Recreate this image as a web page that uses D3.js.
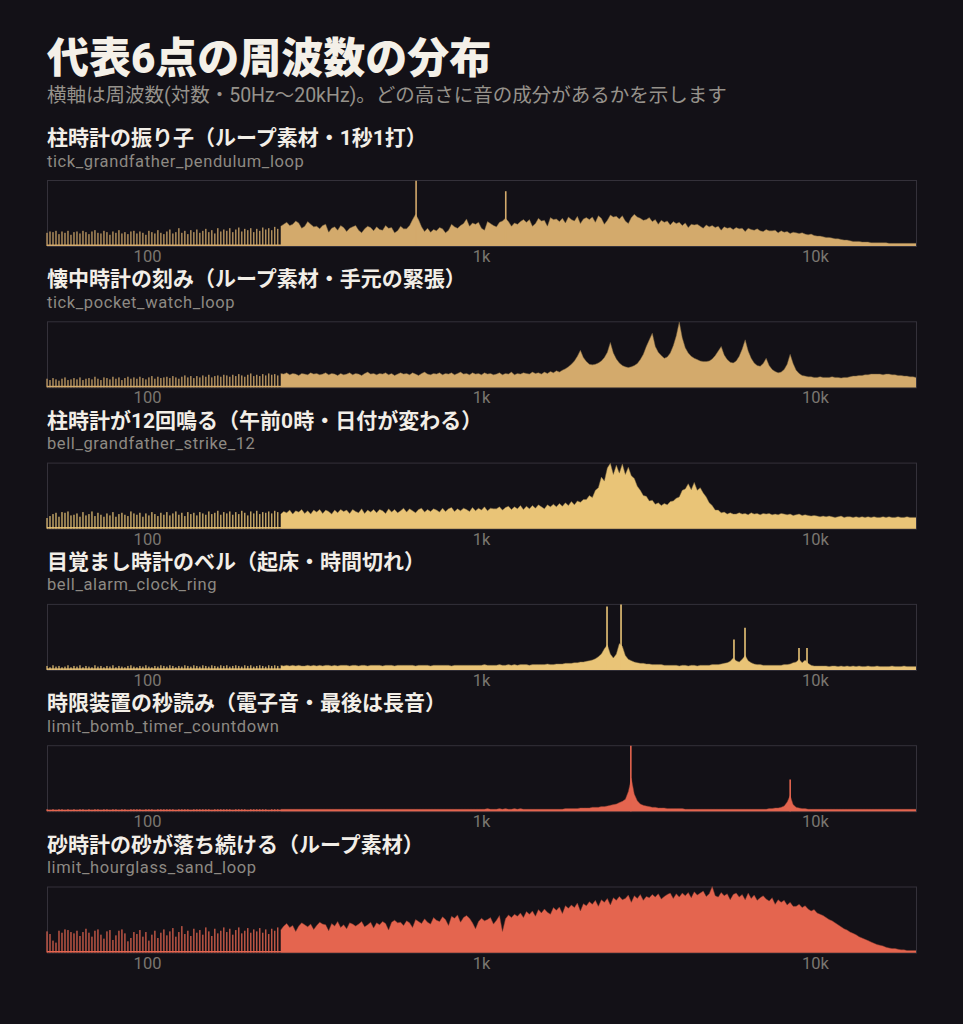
<!DOCTYPE html>
<html><head><meta charset="utf-8">
<script src="https://cdn.jsdelivr.net/npm/d3@7"></script>
<style>
html,body{margin:0;padding:0;background:#131117;}
svg{display:block;}
</style></head><body>
<svg id="chart" width="963" height="1024"></svg>
<script>
// ---------------- DATA ----------------
const freqMin = 50, freqMax = 20000, gridCount = 291;   // log-spaced sampling grid of the x axis
const tickValues = [100, 1000, 10000];
const tickLabels = ["100", "1k", "10k"];
const chartTitle = "代表6点の周波数の分布";
const chartSubtitle = "横軸は周波数(対数・50Hz〜20kHz)。どの高さに音の成分があるかを示します";
const panelTitles = [
  "柱時計の振り子（ループ素材・1秒1打）",
  "懐中時計の刻み（ループ素材・手元の緊張）",
  "柱時計が12回鳴る（午前0時・日付が変わる）",
  "目覚まし時計のベル（起床・時間切れ）",
  "時限装置の秒読み（電子音・最後は長音）",
  "砂時計の砂が落ち続ける（ループ素材）"
];
const panelIds = [
  "tick_grandfather_pendulum_loop",
  "tick_pocket_watch_loop",
  "bell_grandfather_strike_12",
  "bell_alarm_clock_ring",
  "limit_bomb_timer_countdown",
  "limit_hourglass_sand_loop"
];
// level (0-100 % of panel height) at each grid point
const spec1 = [
  20,22,21,23,18,22,20,23,17,21, 22,19,23,21,18,22,24,20,19,23,
  21,17,22,20,24,19,21,18,22,23, 19,22,20,17,23,21,19,24,20,18,
  22,25,19,21,27,20,23,18,24,21, 25,20,23,26,21,24,19,27,22,25,
  23,27,21,25,28,22,26,24,27,21, 26,23,28,25,27,24,29,26,30,33,
  36,31,33,38,35,27,30,37,33,29, 30,26,31,33,21,27,29,24,31,28,
  22,27,29,31,24,20,26,30,28,23, 29,25,24,31,27,28,20,23,30,26,
  26,31,40,48,40,29,22,27,21,25, 23,28,26,20,24,33,29,27,31,34,
  41,30,35,33,36,27,24,37,34,31, 29,36,38,42,37,30,35,33,37,40,
  36,40,30,34,42,38,39,30,43,40, 41,37,42,35,44,40,38,45,34,41,
  43,40,44,36,46,42,33,39,47,44, 45,41,46,38,34,43,48,44,42,39,
  40,43,37,40,33,39,36,38,32,37, 34,36,31,35,28,33,32,33,30,27,
  32,29,31,28,30,24,29,27,28,25, 28,26,27,22,27,25,24,26,23,22,
  25,23,23,24,20,23,21,22,19,21, 20,19,20,18,17,18,16,15,15,14,
  13,13,12,11,11,10,9,9,8,7, 7,7,6,6,6,5,5,5,5,5,
  5,4,4,4,4,4,4,4,4,4, 4
];
const spec2 = [
  13,11,14,12,10,13,15,11,12,14, 12,15,11,13,14,12,16,13,11,15,
  14,12,16,13,15,11,14,16,13,15, 13,16,14,12,15,17,13,16,14,15,
  16,14,17,15,13,16,18,15,17,14, 17,15,18,16,19,15,17,18,16,19,
  18,16,19,17,20,18,16,19,21,17, 19,17,20,18,21,19,20,18,21,20,
  22,19,21,20,18,21,20,19,22,20, 21,19,20,22,19,21,20,18,21,19,
  20,22,19,21,20,18,21,23,20,21, 19,21,20,22,19,21,18,20,22,20,
  21,19,22,20,18,21,23,20,19,21, 20,22,19,21,20,22,19,21,23,20,
  21,19,22,20,21,19,22,20,21,19, 20,22,19,21,20,23,19,21,20,22,
  21,20,23,21,22,20,23,21,24,22, 25,23,26,28,31,35,40,47,56,45,
  39,35,34,35,37,40,45,53,68,52, 43,37,33,31,30,31,33,36,42,50,
  62,72,82,62,53,48,44,46,52,63, 78,99,75,60,52,47,44,42,40,39,
  39,40,43,48,55,62,49,42,38,37, 40,47,58,72,55,44,37,33,32,36,
  44,33,27,24,22,23,27,35,50,36, 26,21,18,17,16,16,15,15,16,15,
  15,15,16,15,15,14,15,15,16,17, 17,18,18,19,19,20,20,20,20,19,
  20,20,19,19,18,18,17,17,16,16, 15
];
const spec3 = [
  16,19,22,24,18,25,24,26,20,21, 23,18,25,20,22,26,19,24,21,18,
  23,20,25,18,22,24,21,19,26,23, 21,24,18,23,20,25,22,19,24,21,
  25,20,23,26,21,24,19,25,22,24, 20,25,23,21,26,22,24,27,21,25,
  23,26,21,25,22,27,24,20,26,23, 27,22,25,24,26,23,27,25,22,26,
  24,28,22,27,25,29,23,27,22,28, 25,29,23,28,26,22,28,24,29,26,
  28,23,29,26,24,30,23,28,25,29, 24,29,27,23,30,25,29,24,27,31,
  25,30,27,24,29,31,25,29,26,30, 28,25,31,26,30,32,26,30,27,31,
  29,26,32,27,31,28,33,27,31,30, 30,33,28,32,34,29,33,30,35,29,
  34,30,35,31,36,33,30,36,33,37, 33,38,34,39,35,41,36,42,40,44,
  44,50,47,58,62,78,72,92,99,82, 96,84,98,82,93,80,76,64,58,50,
  49,42,43,37,39,35,38,36,41,42, 46,48,58,60,68,59,70,58,62,54,
  48,39,35,28,28,24,25,22,24,22, 22,24,22,23,21,24,22,23,21,23,
  22,23,21,22,21,23,22,21,22,20, 21,22,20,21,20,19,20,19,18,19,
  18,19,18,17,18,19,17,18,18,17, 18,17,18,17,18,17,18,17,17,18,
  17,18,17,17,18,17,17,18,17,17, 17
];
const spec4 = [
  6,4,7,5,6,4,5,7,4,6, 5,7,4,6,5,4,7,5,6,4,
  6,5,7,4,6,5,4,6,7,5, 4,6,5,7,5,4,6,5,7,6,
  5,7,6,4,6,5,7,6,5,7, 6,5,7,6,5,7,6,5,7,6,
  7,5,6,7,6,5,7,6,7,5, 6,7,6,5,7,6,7,6,7,6,
  7,6,7,6,7,6,6,7,6,7, 6,7,6,7,7,6,7,6,7,7,
  7,6,7,7,6,7,7,6,7,7, 7,7,6,7,7,7,6,7,7,7,
  7,7,7,6,7,7,7,7,6,7, 7,7,7,7,7,6,7,7,7,7,
  7,7,7,7,7,7,8,7,7,7, 7,8,7,7,8,7,8,7,8,8,
  8,7,8,8,8,8,8,9,8,8, 9,9,9,10,10,10,11,11,12,12,
  13,14,15,17,20,24,32,38,24,18, 24,40,36,22,16,14,12,11,10,10,
  9,9,8,8,8,8,7,7,7,7, 7,6,7,7,6,7,7,6,7,7,
  7,7,8,8,8,9,10,11,13,18, 14,12,16,22,14,11,9,8,8,7,
  7,7,7,7,7,7,8,8,9,11, 12,16,11,15,10,7,6,6,6,6,
  6,5,6,6,5,6,5,6,5,6, 5,6,5,5,6,5,5,6,5,5,
  5,5,6,5,5,5,6,5,5,5, 5
];
const spec5 = [
  3,2,3,2,3,3,2,3,2,3, 2,3,3,2,3,2,3,3,2,3,
  3,2,3,3,2,3,3,2,3,3, 3,3,2,3,3,3,2,3,3,3,
  3,3,3,2,3,3,3,3,2,3, 3,3,3,3,3,2,3,3,3,3,
  3,3,2,3,3,3,3,2,3,3, 3,3,3,3,2,3,3,3,3,3,
  3,3,3,3,3,3,3,3,3,3, 3,3,3,3,3,3,3,3,3,3,
  3,3,3,3,3,3,3,3,3,3, 3,3,3,3,3,3,3,3,3,3,
  3,3,3,3,3,3,3,3,3,3, 3,3,3,3,3,3,3,3,3,3,
  3,3,3,3,3,3,3,4,3,3, 3,4,3,4,3,3,4,3,4,3,
  3,3,3,3,3,3,3,3,3,3, 3,3,3,4,4,4,4,4,5,5,
  5,5,6,6,6,7,7,8,9,10, 11,13,15,18,30,50,26,16,11,9,
  8,7,6,6,5,5,5,4,4,4, 4,4,4,3,3,3,3,3,3,3,
  3,3,3,3,3,3,3,3,3,3, 3,3,3,3,3,3,3,3,3,3,
  3,4,4,5,5,6,8,14,24,10, 6,5,4,4,3,3,3,3,3,3,
  3,3,3,3,3,3,3,3,3,3, 3,3,3,3,3,3,3,3,3,3,
  3,3,3,3,3,3,3,3,3,3, 3
];
const spec6 = [
  32,28,18,15,33,30,35,34,31,29, 33,25,31,36,30,24,33,35,27,21,
  32,34,19,26,33,35,29,17,22,31, 28,34,24,31,18,27,33,22,30,35,
  26,32,37,24,31,40,28,33,25,36, 30,34,27,38,32,25,36,29,33,38,
  31,36,27,34,38,29,33,37,30,35, 32,37,30,35,28,36,33,38,34,40,
  44,38,41,32,40,45,42,39,43,35, 41,46,43,42,33,44,40,47,38,42,
  36,45,43,40,43,47,39,42,46,37, 45,42,47,44,34,46,49,45,46,41,
  48,45,38,50,47,44,51,46,43,53, 49,47,54,50,41,55,52,57,46,53,
  56,52,45,36,47,52,48,50,53,43, 49,56,32,51,57,53,58,55,60,53,
  62,58,63,55,65,60,66,61,58,68, 64,69,59,71,67,72,68,75,63,74,
  71,77,73,79,70,80,76,82,72,83, 79,85,80,82,87,76,86,82,88,79,
  85,83,88,84,89,81,85,88,90,82, 89,84,90,86,91,83,92,87,90,93,
  85,89,100,86,84,91,86,89,80,88, 90,84,88,80,90,82,87,79,83,86,
  81,78,83,73,80,76,79,72,76,70, 70,73,68,71,66,63,65,60,58,56,
  53,50,48,45,42,39,36,34,31,29, 27,24,22,20,18,16,14,12,11,10,
  8,7,6,6,5,4,4,3,3,3, 3
];
// narrow tonal peaks: [frequency in Hz, level %]
const needles1 = [[637, 99], [1182, 83]];
const needles2 = [];
const needles3 = [];
const needles4 = [[2376, 96], [2617, 99], [5701, 46], [6152, 64], [8927, 33], [9433, 33]];
const needles5 = [[2800, 99], [8400, 48]];
const needles6 = [];

// ---------------- STYLE / LAYOUT ----------------
const spectra = [spec1, spec2, spec3, spec4, spec5, spec6];
const needles = [needles1, needles2, needles3, needles4, needles5, needles6];
const colors = ["#d3aa6c", "#d3aa6c", "#e9c477", "#e9c477", "#e4654f", "#e4654f"];
const plotLeft = 47, plotRight = 916, frameTop0 = 180, frameH = 66, panelStep = 141.3;
const barCutoff = 250;
const cjkFont = "Roboto, 'Noto Sans CJK JP', sans-serif";
const latinFont = "Roboto, 'Noto Sans', sans-serif";

const svg = d3.select("#chart");
svg.append("rect").attr("width", 963).attr("height", 1024).attr("fill", "#131117");

svg.append("text").attr("x", 47).attr("y", 73)
  .attr("font-family", cjkFont).attr("font-weight", 900).attr("font-size", 42)
  .attr("fill", "#f4f0e8").text(chartTitle);
svg.append("text").attr("x", 47).attr("y", 101.5)
  .attr("font-family", cjkFont).attr("font-size", 19.5)
  .attr("fill", "#96928b").text(chartSubtitle);

const x = d3.scaleLog().domain([freqMin, freqMax]).range([plotLeft, plotRight]);
const grid = d3.range(gridCount).map(i => freqMin * Math.pow(freqMax / freqMin, i / (gridCount - 1)));

spectra.forEach((spec, p) => {
  const top = frameTop0 + p * panelStep;
  const bottom = top + frameH;
  const y = d3.scaleLinear().domain([0, 100]).range([bottom, top]);
  const color = colors[p];
  const g = svg.append("g");
  const pts = grid.map((f, i) => ({ f, v: spec[i] }));

  g.append("text").attr("x", 47).attr("y", top - 35)
    .attr("font-family", cjkFont).attr("font-weight", 700).attr("font-size", 21)
    .attr("fill", "#f2eee7").text(panelTitles[p]);
  g.append("text").attr("x", 47).attr("y", top - 13.5)
    .attr("font-family", latinFont).attr("font-size", 16.5).attr("letter-spacing", 0.6)
    .attr("fill", "#8d8983").text(panelIds[p]);

  g.append("rect").attr("x", plotLeft + 0.5).attr("y", top + 0.5)
    .attr("width", plotRight - plotLeft).attr("height", frameH)
    .attr("fill", "none").attr("stroke", "#34313a").attr("stroke-width", 1);

  // low-frequency bins drawn as separate bars
  const lows = pts.filter(d => d.f < barCutoff);
  g.selectAll("rect.bar").data(lows).join("rect").attr("class", "bar")
    .attr("x", d => x(d.f) - 0.7).attr("width", 1.4)
    .attr("y", d => y(d.v)).attr("height", d => bottom - y(d.v))
    .attr("fill", color).attr("opacity", 0.85);

  // continuous region
  const highs = pts.filter(d => d.f >= barCutoff * 0.985);
  const area = d3.area().x(d => x(d.f)).y0(bottom).y1(d => y(d.v));
  const line = d3.line().x(d => x(d.f)).y(d => y(d.v));
  g.append("path").datum(highs).attr("d", area).attr("fill", color);
  g.append("path").datum(highs).attr("d", line).attr("fill", "none")
    .attr("stroke", d3.color(color).darker(1.6)).attr("stroke-opacity", 0.6).attr("stroke-width", 0.8);

  // baseline
  g.append("rect").attr("x", plotLeft).attr("y", bottom - 1.5)
    .attr("width", plotRight - plotLeft).attr("height", 1.5).attr("fill", color);

  // needles
  g.selectAll("line.needle").data(needles[p]).join("line").attr("class", "needle")
    .attr("x1", d => x(d[0])).attr("x2", d => x(d[0]))
    .attr("y1", bottom).attr("y2", d => y(d[1]))
    .attr("stroke", color).attr("stroke-width", 1.6);

  // tick labels
  g.selectAll("text.tick").data(tickValues).join("text").attr("class", "tick")
    .attr("x", d => x(d)).attr("y", bottom + 16)
    .attr("text-anchor", "middle").attr("font-family", latinFont).attr("font-size", 16.5)
    .attr("fill", "#7a766f").text((d, i) => tickLabels[i]);
});
</script>
</body></html>
